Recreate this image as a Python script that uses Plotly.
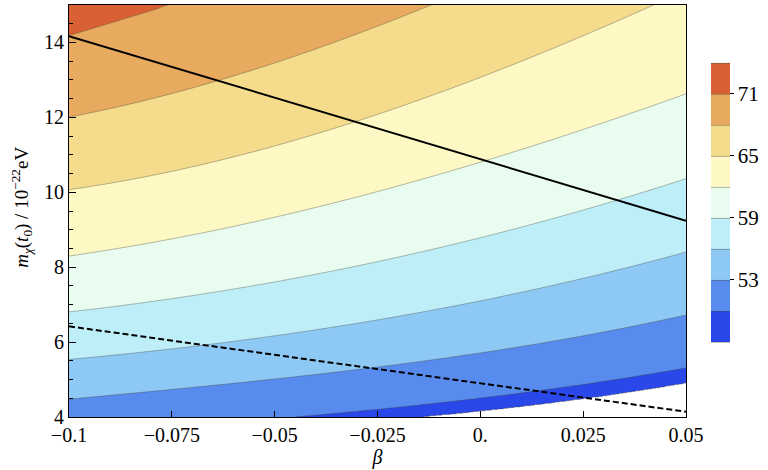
import numpy as np
import plotly.graph_objects as go

# beta columns at which contour boundaries are tabulated
beta_cols = [-0.1, -0.075, -0.05, -0.025, 0.0, 0.025, 0.05]

# contour levels and the m-position (in 1e-22 eV) of each level at every beta column
levels = [47, 50, 53, 56, 59, 62, 65, 68, 71]
m_47 = [3.20, 3.45, 3.68, 3.86, 4.14, 4.51, 4.89]
m_50 = [3.55, 3.76, 3.93, 4.21, 4.51, 4.86, 5.31]
m_53 = [4.48, 4.73, 5.00, 5.36, 5.71, 6.15, 6.73]
m_56 = [5.53, 5.84, 6.14, 6.61, 7.09, 7.71, 8.40]
m_59 = [6.80, 7.18, 7.58, 8.16, 8.78, 9.53, 10.36]
m_62 = [8.30, 8.74, 9.36, 10.01, 10.78, 11.70, 12.62]
m_65 = [10.07, 10.56, 11.23, 12.07, 13.10, 14.15, 15.40]
m_68 = [12.00, 12.65, 13.45, 14.42, 15.55, 16.80, 18.10]
m_71 = [14.19, 15.05, 16.00, 17.10, 18.30, 19.70, 21.20]
level_positions = [m_47, m_50, m_53, m_56, m_59, m_62, m_65, m_68, m_71]

# straight reference lines
line_beta = [-0.1, 0.05]
solid_m = [14.17, 9.24]
dashed_m = [6.42, 4.14]

# fill colours: below 47, one per 3-unit band from 47 to 74, then above 74
band_colors = ["#ffffff", "#2a47e9", "#578cee", "#8ec9f5", "#beeff9",
               "#e9fcf0", "#fdf8c4", "#f4dc8c", "#e7aa5e", "#d96032", "#ffffff"]

x_tickvals = [-0.1, -0.075, -0.05, -0.025, 0.0, 0.025, 0.05]
x_ticktext = ["\u22120.1", "\u22120.075", "\u22120.05", "\u22120.025", "0.", "0.025", "0.05"]
y_tickvals = [4, 6, 8, 10, 12, 14]
cb_tickvals = [53, 59, 65, 71]

# smooth each tabulated boundary along beta, then build the z grid for the contour trace
beta_grid = np.linspace(-0.1, 0.05, 301)
m_grid = np.linspace(4, 15, 661)
coefs = [np.polyfit(beta_cols, row, 3) for row in level_positions]
z = np.empty((m_grid.size, beta_grid.size))
for j, b in enumerate(beta_grid):
    col = [np.polyval(c, b) for c in coefs]
    z[:, j] = np.interp(m_grid, col, levels, left=45.5, right=72.5)

nb = len(band_colors)
colorscale = [[i / (nb - 1), c] for i, c in enumerate(band_colors)]

font_family = "Liberation Serif"

fig = go.Figure()
fig.add_trace(go.Contour(
    x=beta_grid, y=m_grid, z=z,
    autocontour=False,
    contours=dict(start=levels[0], end=levels[-1] + 3, size=3, coloring="fill"),
    colorscale=colorscale,
    line=dict(color="rgba(70,70,60,0.5)", width=0.8, smoothing=0),
    colorbar=dict(
        tickvals=cb_tickvals,
        ticks="outside", ticklen=4, tickcolor="black",
        tickfont=dict(family=font_family, size=21, color="black"),
        thickness=19, thicknessmode="pixels",
        len=310, lenmode="pixels", ypad=0, xpad=0,
        x=1.0413, xanchor="left", y=0.522, yanchor="middle",
        outlinewidth=0,
    ),
    hoverinfo="skip",
))
fig.add_trace(go.Scatter(x=line_beta, y=solid_m, mode="lines",
                         line=dict(color="black", width=2), showlegend=False))
fig.add_trace(go.Scatter(x=line_beta, y=dashed_m, mode="lines",
                         line=dict(color="black", width=2, dash="6px,3px"), showlegend=False))

fig.update_layout(
    width=768, height=470,
    margin=dict(l=69, r=82, t=5, b=53, autoexpand=False),
    paper_bgcolor="white", plot_bgcolor="white",
    font=dict(family=font_family, size=20, color="black"),
    showlegend=False,
)
fig.update_xaxes(
    range=[-0.1, 0.05], tickvals=x_tickvals, ticktext=x_ticktext,
    ticks="inside", ticklen=6, tickwidth=1, tickcolor="black",
    showline=True, linecolor="black", linewidth=1, mirror=True,
    showgrid=False, zeroline=False,
    title=dict(text="<i>β</i>", font=dict(size=20), standoff=4),
)
fig.update_yaxes(
    range=[4, 15], tickvals=y_tickvals,
    ticks="inside", ticklen=7, tickwidth=1, tickcolor="black",
    minor=dict(dtick=0.5, ticks="inside", ticklen=4, tickcolor="black", showgrid=False),
    showline=True, linecolor="black", linewidth=1, mirror=True,
    showgrid=False, zeroline=False,
)
fig.add_annotation(
    text="<i>m</i><sub><i>χ</i></sub>(<i>t</i><sub>0</sub>) / 10<sup>−22</sup>eV",
    xref="paper", yref="paper", x=-0.076, y=0.508,
    xanchor="center", yanchor="middle", textangle=-90, showarrow=False,
    font=dict(family=font_family, size=19, color="black"),
)

fig.write_html("out.html")
